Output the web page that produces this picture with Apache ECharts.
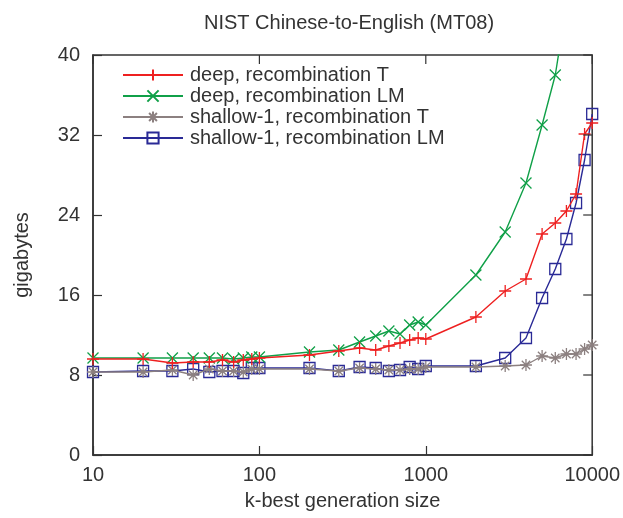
<!DOCTYPE html>
<html>
<head>
<meta charset="utf-8">
<script src="https://cdn.jsdelivr.net/npm/echarts@6/dist/echarts.min.js"></script>
<style>html,body{margin:0;padding:0;background:#fff}#c{width:623px;height:518px}</style>
</head>
<body>
<div id="c"></div>
<script>
const kValues = [10,20,30,40,50,60,70,80,90,100,200,300,400,500,600,700,800,900,1000,2000,3000,4000,5000,6000,7000,8000,9000,10000];
const deepT = [9.6,9.6,9.2,9.3,9.3,9.5,9.3,9.5,9.6,9.7,10.0,10.4,10.7,10.5,10.9,11.2,11.5,11.7,11.6,13.8,16.4,17.6,22.1,23.2,24.4,26.1,32.1,33.2];
const deepLM = [9.7,9.7,9.7,9.7,9.7,9.7,9.6,9.7,9.8,9.8,10.3,10.5,11.3,11.9,12.4,12.1,13.0,13.3,13.0,18.0,22.3,27.2,33.0,38.0,45.0,null,null,null];
const shallowT = [8.3,8.3,8.5,8.0,8.6,8.4,8.4,8.3,8.6,8.6,8.6,8.4,8.7,8.6,8.5,8.5,8.6,8.6,8.8,8.8,8.9,9.0,9.9,9.7,10.1,10.1,10.6,11.0];
const shallowLM = [8.3,8.4,8.4,8.6,8.3,8.4,8.4,8.2,8.7,8.7,8.7,8.4,8.8,8.7,8.4,8.5,8.8,8.6,8.9,8.9,9.7,11.7,15.7,18.6,21.6,25.2,29.5,34.1];
const seriesNames = ['deep, recombination T','deep, recombination LM','shallow-1, recombination T','shallow-1, recombination LM'];
const yTicks = [0,8,16,24,32,40];
const xTicks = [10,100,1000,10000];

const colors = ['#ee2020','#10a048','#8c8080','#2a2a96'];
const symbols = [
  'path://M0,5L10,5M5,0L5,10',
  'path://M0,0L10,10M10,0L0,10',
  'path://M0,5L10,5M5,0L5,10M1.5,1.5L8.5,8.5M8.5,1.5L1.5,8.5',
  'path://M0,0L10,0L10,10L0,10Z'
];
const sizes = [12,11,12,11];
const allData = [deepT, deepLM, shallowT, shallowLM];

function pairs(arr){
  const out = [];
  for (let i = 0; i < kValues.length; i++) if (arr[i] != null) out.push([kValues[i], arr[i]]);
  return out;
}

const series = allData.map((d, i) => ({
  name: seriesNames[i],
  type: 'line',
  data: pairs(d),
  symbol: symbols[i],
  symbolSize: sizes[i],
  showAllSymbol: true,
  clip: true,
  lineStyle: {color: colors[i], width: 1.4},
  itemStyle: {color: 'rgba(0,0,0,0)', borderColor: colors[i], borderWidth: 1.3},
  emphasis: {disabled: true},
  z: 10 - i
}));

// mirror ticks on the top and right frame edges, placed through the axes' own scales
const TICK_LEN = 9;
function mirrorTicks(data, dx, dy){
  return {
    type: 'custom', silent: true, clip: false, z: 20,
    data: data,
    renderItem: (params, api) => {
      const p = api.coord([api.value(0), api.value(1)]);
      return {type: 'line', shape: {x1: p[0], y1: p[1], x2: p[0] + dx, y2: p[1] + dy},
        style: {stroke: '#333', lineWidth: 1.2}};
    }
  };
}
series.push(mirrorTicks(xTicks.map(x => [x, yTicks[yTicks.length - 1]]), 0, TICK_LEN));
series.push(mirrorTicks(yTicks.map(y => [xTicks[xTicks.length - 1], y]), -TICK_LEN, 0));

const txt = '#333';
const F = 'Liberation Sans';
const axisLineStyle = {color: '#333', width: 1.5};
const chart = echarts.init(document.getElementById('c'));
chart.setOption({
  animation: false,
  title: {
    text: 'NIST Chinese-to-English (MT08)',
    left: 344, top: 8, textAlign: 'center',
    textStyle: {fontFamily: F, fontSize: 20, fontWeight: 'normal', color: txt}
  },
  legend: {
    orient: 'vertical', left: 117, top: 60,
    itemWidth: 60, itemHeight: 14, itemGap: 1,
    data: seriesNames,
    textStyle: {fontFamily: F, fontSize: 20, color: txt, padding: [0,0,0,2]}
  },
  grid: {left: 93, right: 28, top: 55, bottom: 63, containLabel: false,
    show: true, borderColor: '#333', borderWidth: 1.5, backgroundColor: 'transparent'},
  xAxis: {
    type: 'log', logBase: 10, min: 10, max: 10000,
    name: 'k-best generation size', nameLocation: 'middle', nameGap: 36,
    nameTextStyle: {fontFamily: F, fontSize: 20, color: txt},
    axisLine: {show: true, lineStyle: axisLineStyle},
    axisTick: {show: true, inside: true, length: TICK_LEN, lineStyle: {color: '#333', width: 1.2}},
    minorTick: {show: false},
    axisLabel: {fontFamily: F, fontSize: 20, color: txt, margin: 10,
      formatter: v => xTicks.includes(Math.round(v)) ? String(Math.round(v)) : ''},
    splitLine: {show: false}
  },
  yAxis: {
    type: 'value', min: 0, max: 40, interval: 8,
    name: 'gigabytes', nameLocation: 'middle', nameGap: 61,
    nameTextStyle: {fontFamily: F, fontSize: 20, color: txt},
    axisLine: {show: true, lineStyle: axisLineStyle},
    axisTick: {show: true, inside: true, length: TICK_LEN, lineStyle: {color: '#333', width: 1.2}},
    axisLabel: {fontFamily: F, fontSize: 20, color: txt, margin: 13,
      formatter: v => yTicks.includes(v) ? String(v) : ''},
    splitLine: {show: false}
  },
  series: series
});
</script>
</body>
</html>
